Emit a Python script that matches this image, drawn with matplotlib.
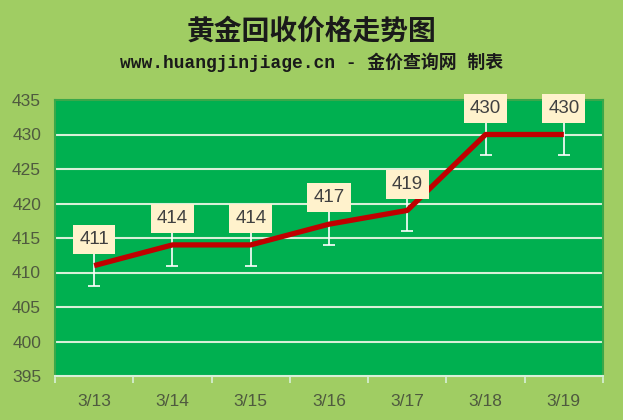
import matplotlib.pyplot as plt

plt.rcParams['font.family'] = ['Noto Sans CJK SC', 'DejaVu Sans']

# 数据
dates = ['3/13', '3/14', '3/15', '3/16', '3/17', '3/18', '3/19']
prices = [411, 414, 414, 417, 419, 430, 430]
err = [3, 3, 3, 3, 3, 3, 3]
yticks = [395, 400, 405, 410, 415, 420, 425, 430, 435]

bg = '#a0cd63'
fig = plt.figure(figsize=(6.23, 4.2), dpi=100, facecolor=bg)
ax = fig.add_axes([55 / 623, 1 - 376 / 420, 548 / 623, 276 / 420])
ax.set_facecolor('#00b050')

x = list(range(len(dates)))
ax.set_xlim(-0.5, len(dates) - 0.5)
ax.set_ylim(395, 435)
ax.set_yticks(yticks)
for y in yticks[1:-1]:
    ax.axhline(y, color='#d8f0d8', lw=1.5, zorder=1)

ax.errorbar(x, prices, yerr=err, fmt='none', ecolor='white', elinewidth=1.2,
            capsize=4.5, capthick=1.2, zorder=2)
ax.plot(x, prices, color='#c00000', lw=3.8, solid_capstyle='butt', zorder=3)

for xi, p in zip(x, prices):
    ax.annotate(str(p), (xi, p), xytext=(0, 19), textcoords='offset points',
                ha='center', va='center', fontsize=13.5, color='#404040',
                family=['Liberation Sans', 'DejaVu Sans'],
                bbox=dict(boxstyle='square,pad=0.32', fc='#fff2cc', ec='none'),
                zorder=5)

ax.set_xticks([i - 0.5 for i in range(len(dates) + 1)], minor=False)
ax.set_xticklabels([])
ax.set_xticks(x, minor=True)
ax.set_xticklabels(dates, minor=True)
ax.tick_params(axis='x', which='major', length=5, color='#d8f0d8', width=1.2)
ax.tick_params(axis='x', which='minor', length=0, pad=13, labelsize=12.5,
               labelcolor='#4f5a3f')
ax.tick_params(axis='y', length=0, pad=10, labelsize=12.5, labelcolor='#4f5a3f')
for lbl in ax.get_xticklabels(minor=True) + ax.get_yticklabels():
    lbl.set_family(['Liberation Sans', 'DejaVu Sans'])

for s in ['top', 'left', 'right']:
    ax.spines[s].set_color('#3aa84a')
    ax.spines[s].set_linewidth(1.5)
ax.spines['bottom'].set_color('#d8f0d8')
ax.spines['bottom'].set_linewidth(1.5)

fig.text(0.5, 1 - 32 / 420, '黄金回收价格走势图', ha='center', va='center',
         fontsize=20, fontweight='bold', color='#1a1a1a')
fig.text(0.5, 1 - 62 / 420, 'www.huangjinjiage.cn - 金价查询网 制表', ha='center',
         va='center', fontsize=12.9, fontweight='bold', color='#1a1a1a',
         family=['Liberation Mono', 'Noto Sans CJK SC'])

fig.savefig('out.png', dpi=100, facecolor=bg)
